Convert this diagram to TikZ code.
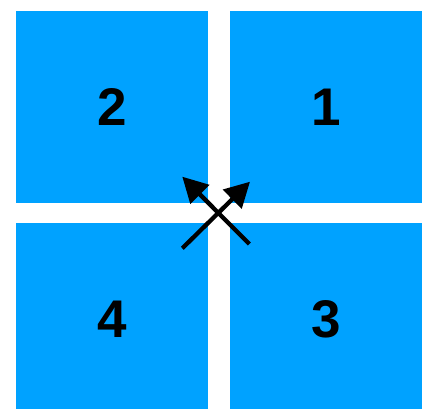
\documentclass[tikz,border=0pt]{standalone}
\usepackage{fontspec}
\setmainfont{Liberation Sans}
\usetikzlibrary{positioning,arrows.meta}
\definecolor{tileblue}{RGB}{0,162,255}

\begin{document}
\begin{tikzpicture}[
      x=1pt,y=-1pt,
      node distance=22pt,
      tile/.style={fill=tileblue,inner sep=0pt,outer sep=0pt,minimum width=192pt,minimum height=192pt,font=\fontsize{53}{53}\selectfont\bfseries},
      move/.style={-{Triangle[length=25pt,width=26pt]},black,line width=4.3pt}
    ]
      \clip (0,0) rectangle (430,408);
      \node[tile] (two) at (112,107) {2};
      \node[tile,right=22pt of two] (one) {1};
      \node[tile,below=20pt of two] (four) {4};
      \node[tile,right=22pt of four] (three) {3};
      \coordinate (fromfour) at (182.3,248.3);
      \coordinate (toone) at (250,181.7);
      \coordinate (fromthree) at (249.3,244);
      \coordinate (totwo) at (182.3,176.7);
      \draw[move] (fromfour) -- (toone);
      \draw[move] (fromthree) -- (totwo);
    \end{tikzpicture}
\end{document}
